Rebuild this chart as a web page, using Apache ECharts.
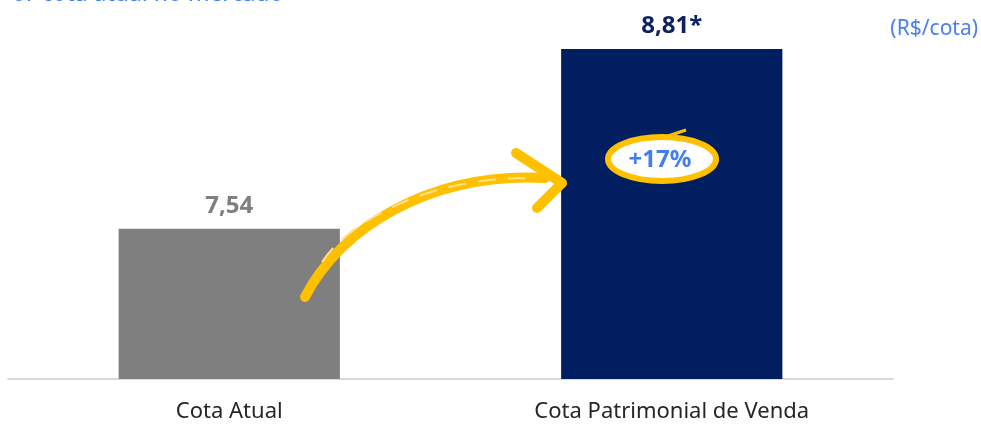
<!DOCTYPE html>
<html>
<head>
<meta charset="utf-8">
<script src="https://cdn.jsdelivr.net/npm/echarts@6/dist/echarts.min.js"></script>
<style>
html, body { margin: 0; padding: 0; background: #fff; }
#chart { width: 981px; height: 426px; }
</style>
</head>
<body>
<div id="chart"></div>
<script>
var categories = ['Cota Atual', 'Cota Patrimonial de Venda'];
var values = [7.54, 8.81];
var labelSuffix = ['', '*'];
var barColors = ['#7f7f7f', '#001e60'];
var labelColors = ['#7f7f7f', '#0d2260'];

var chartDom = document.getElementById('chart');
var myChart = echarts.init(chartDom);

var growth = Math.round((values[1] / values[0] - 1) * 100);
var yellow = '#ffc000';

var option = {
    animation: false,
    grid: {
        left: 8,
        right: 88,
        top: 22,
        bottom: 47
    },
    xAxis: {
        type: 'category',
        data: categories,
        axisTick: { show: false },
        axisLine: {
            lineStyle: { color: '#d9d9d9', width: 2 }
        },
        axisLabel: {
            margin: 22,
            fontSize: 22,
            color: '#262626',
            fontFamily: 'Noto Sans'
        }
    },
    yAxis: {
        type: 'value',
        min: 6.48,
        max: 9.0,
        show: false,
        splitLine: { show: false }
    },
    series: [{
        type: 'bar',
        barWidth: '50%',
        data: values.map(function (v, i) {
            return {
                value: v,
                itemStyle: { color: barColors[i] },
                label: {
                    color: labelColors[i],
                    formatter: v.toFixed(2).replace('.', ',') + labelSuffix[i]
                }
            };
        }),
        label: {
            show: true,
            position: 'top',
            distance: 11,
            fontSize: 24,
            fontWeight: 'bold',
            fontFamily: 'Noto Sans'
        }
    }],
    graphic: [
        {
            type: 'text',
            left: 12,
            top: -17,
            style: {
                text: 'or cota atual no mercado',
                fontSize: 23,
                fill: '#3d7ef5',
                fontFamily: 'Noto Sans'
            }
        },
        {
            type: 'text',
            right: 3,
            top: 19,
            style: {
                text: '(R$/cota)',
                fontSize: 21,
                fill: '#4a7ff0',
                fontFamily: 'Noto Sans'
            }
        },
        {
            type: 'bezierCurve',
            z: 10,
            shape: { x1: 305, y1: 297, cpx1: 340, cpy1: 228, cpx2: 430, cpy2: 172, x2: 545, y2: 178 },
            style: { stroke: yellow, lineWidth: 10, fill: null, lineCap: 'round' }
        },
        {
            type: 'bezierCurve',
            z: 11,
            shape: { x1: 322, y1: 262, cpx1: 350, cpy1: 220, cpx2: 430, cpy2: 178, x2: 525, y2: 178 },
            style: { stroke: '#ffe08a', lineWidth: 2, fill: null, lineDash: [18, 12] }
        },
        {
            type: 'polyline',
            z: 10,
            shape: { points: [[516, 153], [562, 183], [537, 208]] },
            style: { stroke: yellow, lineWidth: 10, fill: null, lineJoin: 'round', lineCap: 'round' }
        },
        {
            type: 'ellipse',
            z: 10,
            shape: { cx: 662, cy: 159, rx: 54, ry: 22 },
            style: { fill: '#ffffff', stroke: yellow, lineWidth: 6 }
        },
        {
            type: 'line',
            z: 10,
            shape: { x1: 662, y1: 138, x2: 686, y2: 130 },
            style: { stroke: yellow, lineWidth: 3 }
        },
        {
            type: 'text',
            z: 11,
            x: 660,
            y: 160,
            style: {
                text: '+' + growth + '%',
                fontSize: 24,
                fontWeight: 'bold',
                fill: '#3f7ff2',
                fontFamily: 'Noto Sans',
                align: 'center',
                verticalAlign: 'middle'
            }
        }
    ]
};

option && myChart.setOption(option);
window.addEventListener('resize', function () {
    myChart.resize();
});
</script>
</body>
</html>
